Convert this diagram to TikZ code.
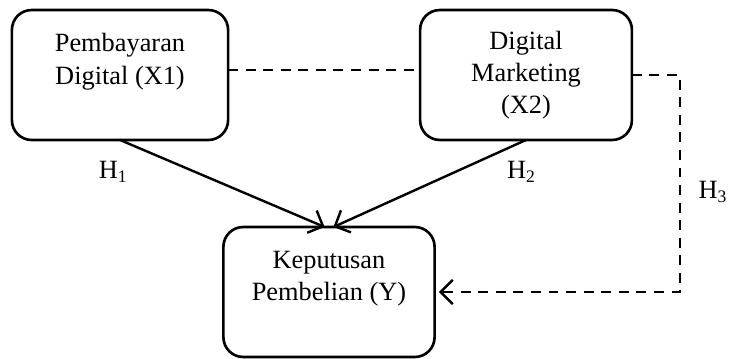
\documentclass[tikz,border=0pt]{standalone}
\usepackage{fontspec}
\setmainfont{Liberation Serif}
\usetikzlibrary{arrows.meta}

\begin{document}
\begin{tikzpicture}[
  x=0.016cm, y=-0.016cm,
  font=\fontsize{12}{14.7}\selectfont,
  varbox/.style={draw=black, line width=1.2pt, rounded corners=9pt, align=center, minimum height=2.08cm, inner sep=2pt, outer sep=0pt},
  flow/.style={-{Straight Barb[length=5.5pt,width=11pt,line width=1.1pt]}, line width=1.1pt},
  link/.style={line width=1.1pt, dash pattern=on 4.5pt off 3.5pt},
  hlabel/.style={inner sep=1pt}
]
\useasboundingbox (0,0) rectangle (730,359);

\node[varbox,minimum width=3.46cm] (pembayaran) at (120,75) {
  Pembayaran\\
  Digital (X1)\\
  \mbox{}
};

\node[varbox,minimum width=3.39cm] (marketing) at (526,75) {
  Digital\\
  Marketing\\
  (X2)
};

\node[varbox,minimum width=3.38cm] (keputusan) at (329,292) {
  Keputusan\\
  Pembelian (Y)\\
  \mbox{}
};

\draw[flow] (pembayaran.south) --
  node[at start,below=8pt,xshift=-3pt,hlabel]{H\textsubscript{1}} ([xshift=-2pt]keputusan.north);
\draw[flow] (marketing.south) --
  node[at start,below=8pt,xshift=-2pt,hlabel]{H\textsubscript{2}} ([xshift=2pt]keputusan.north);
\draw[link] ([yshift=2.3pt]pembayaran.east) -- ([yshift=2.3pt]marketing.west);
\draw[link,-{Straight Barb[length=5.5pt,width=11pt,line width=1.1pt]}] (marketing.east) -- ++(48,0) coordinate (bend)
  -- node[pos=0.54,right=7pt,hlabel]{H\textsubscript{3}} (bend |- keputusan.east) -- ([xshift=2pt]keputusan.east);

\end{tikzpicture}
\end{document}
